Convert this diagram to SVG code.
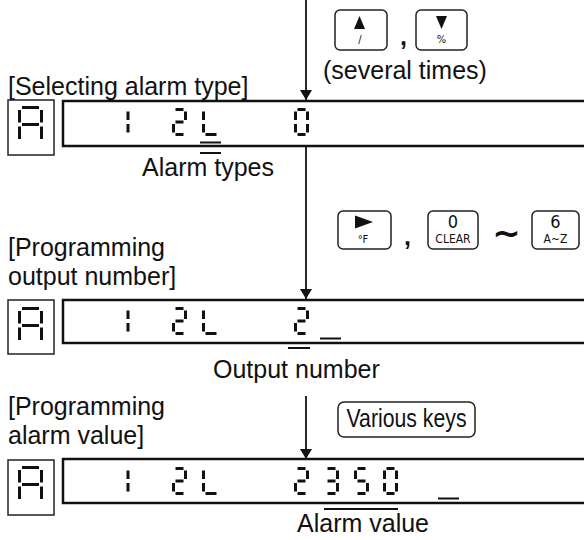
<svg xmlns="http://www.w3.org/2000/svg" xmlns:xlink="http://www.w3.org/1999/xlink" width="584" height="540" viewBox="0 0 584 540">
<style>
.lbl{font-family:"Liberation Sans",Arial,sans-serif;font-size:25px;fill:#111}
.key{fill:#fff;stroke:#222;stroke-width:1.5}
.kt{font-family:"DejaVu Sans","Liberation Sans",sans-serif;font-stretch:condensed;fill:#111;text-anchor:middle}
.abox{fill:#fff;stroke:#222;stroke-width:1.5}
.disp{fill:#fff;stroke:#111;stroke-width:2.5}
.seg{stroke:#111;stroke-width:3;fill:none}
.mk{stroke:#111;stroke-width:2;fill:none}
.conn{stroke:#111;stroke-width:1.8;fill:none}
</style>
<defs>
<marker id="ah" viewBox="0 0 10 12" refX="10" refY="6" markerWidth="10" markerHeight="12" markerUnits="userSpaceOnUse" orient="auto">
<path d="M0,0 L10,6 L0,12 Z" fill="#111"/>
</marker>
<path id="d1" class="seg" d="M13.5,3.5V12M13.5,16V24.5"/>
<path id="d2" class="seg" d="M3.5,1.5H11.5M13.5,3.5V12M3.5,14H11.5M1.5,16V24.5M3.5,26.5H11.5"/>
<path id="d3" class="seg" d="M3.5,1.5H11.5M13.5,3.5V12M3.5,14H11.5M13.5,16V24.5M3.5,26.5H11.5"/>
<path id="d5" class="seg" d="M3.5,1.5H11.5M1.5,3.5V12M3.5,14H11.5M13.5,16V24.5M3.5,26.5H11.5"/>
<path id="d0" class="seg" d="M3.5,1.5H11.5M13.5,3.5V12M13.5,16V24.5M3.5,26.5H11.5M1.5,16V24.5M1.5,3.5V12"/>
<path id="dL" class="seg" d="M1.5,3.5V12M1.5,16V24.5M3.5,26.5H14.5"/>
<path id="dA" class="seg" d="M4,1.5H21M23.5,4V16.5M23.5,20.5V33M1.5,20.5V33M1.5,4V16.5M4,18.5H21"/>
</defs>

<g id="connectors">
<line class="conn" x1="306" y1="0" x2="306" y2="100" marker-end="url(#ah)"/>
<line class="conn" x1="306" y1="147" x2="306" y2="299" marker-end="url(#ah)"/>
<line class="conn" x1="306" y1="396" x2="306" y2="459" marker-end="url(#ah)"/>
</g>

<g id="keys-top">
<rect class="key" x="335" y="10" width="52" height="40" rx="5"/>
<path d="M359.5,16 L365,29 L354,29 Z" fill="#111"/>
<text class="kt" x="360" y="43" font-size="11">/</text>
<text class="lbl" x="400" y="45" font-size="22" font-weight="bold">,</text>
<rect class="key" x="416" y="10" width="51" height="40" rx="5"/>
<path d="M436,16 L447,16 L441.5,29 Z" fill="#111"/>
<text class="kt" x="441.5" y="43" font-size="11">%</text>
<text class="lbl" x="323" y="79">(several times)</text>
</g>

<g id="panel1">
<text class="lbl" x="8" y="95">[Selecting alarm type]</text>
<rect class="abox" x="8" y="100" width="46" height="55"/>
<use href="#dA" x="18" y="106"/>
<rect class="disp" x="63" y="101" width="540" height="45"/>
<use href="#d1" x="114.5" y="108"/>
<use href="#d2" x="172" y="108"/>
<use href="#dL" x="202" y="108"/>
<use href="#d0" x="294" y="108"/>
<line class="mk" x1="200" y1="142.5" x2="221" y2="142.5"/>
<line class="mk" x1="200" y1="153" x2="221" y2="153"/>
<text class="lbl" x="142" y="176">Alarm types</text>
</g>

<g id="keys-mid">
<rect class="key" x="338" y="211" width="53" height="38" rx="5"/>
<path d="M355,215.5 L373,222 L355,228.5 Z" fill="#111"/>
<text class="kt" x="363" y="243" font-size="11">°F</text>
<text class="lbl" x="404" y="245" font-size="22" font-weight="bold">,</text>
<rect class="key" x="428" y="211" width="50" height="38" rx="5"/>
<text class="kt" x="453" y="228" font-size="18">0</text>
<text class="kt" x="453" y="243" font-size="12">CLEAR</text>
<text x="506.5" y="245" font-family="DejaVu Sans, sans-serif" font-size="34" font-weight="bold" text-anchor="middle" fill="#111">~</text>
<rect class="key" x="532" y="211" width="47" height="38" rx="5"/>
<text class="kt" x="555.5" y="228" font-size="18">6</text>
<text class="kt" x="555.5" y="243" font-size="12">A~Z</text>
</g>

<g id="panel2">
<text class="lbl" x="8" y="256">[Programming</text>
<text class="lbl" x="8" y="285">output number]</text>
<rect class="abox" x="8" y="300" width="46" height="54"/>
<use href="#dA" x="18" y="307"/>
<rect class="disp" x="63" y="300" width="540" height="43"/>
<use href="#d1" x="114.5" y="307"/>
<use href="#d2" x="172" y="307"/>
<use href="#dL" x="202" y="307"/>
<use href="#d2" x="294" y="307"/>
<line class="mk" x1="320" y1="338.5" x2="341" y2="338.5"/>
<line class="mk" x1="288" y1="348" x2="310" y2="348"/>
<text class="lbl" x="213" y="378">Output number</text>
</g>

<g id="panel3">
<text class="lbl" x="8" y="415">[Programming</text>
<text class="lbl" x="8" y="444">alarm value]</text>
<rect class="key" x="338" y="402" width="137" height="35" rx="6"/>
<text class="lbl" x="406.5" y="427" font-size="21" text-anchor="middle" textLength="120" lengthAdjust="spacingAndGlyphs">Various keys</text>
<rect class="abox" x="8" y="460" width="46" height="55"/>
<use href="#dA" x="18" y="466"/>
<rect class="disp" x="63" y="459" width="540" height="44"/>
<use href="#d1" x="114.5" y="467"/>
<use href="#d2" x="172" y="467"/>
<use href="#dL" x="202" y="467"/>
<use href="#d2" x="294" y="467"/>
<use href="#d3" x="324" y="467"/>
<use href="#d5" x="354" y="467"/>
<use href="#d0" x="383" y="467"/>
<line class="mk" x1="438" y1="498.5" x2="459" y2="498.5"/>
<line class="mk" x1="324" y1="509" x2="398" y2="509"/>
<text class="lbl" x="297" y="532">Alarm value</text>
</g>
</svg>
